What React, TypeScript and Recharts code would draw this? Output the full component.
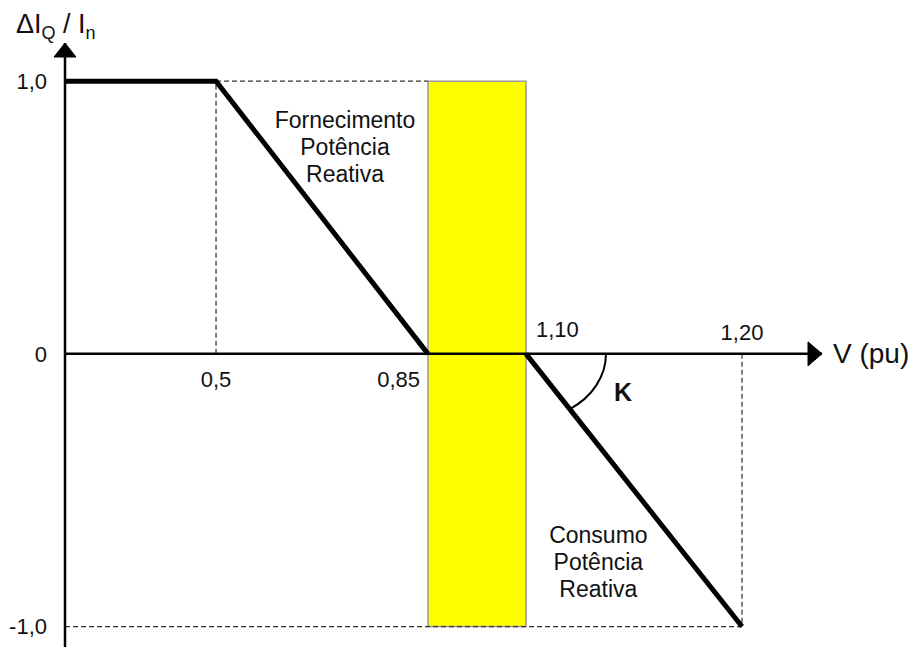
import { ComposedChart, Line, XAxis, YAxis, ReferenceArea, ReferenceLine, ReferenceDot } from 'recharts'

// voltage ticks on the (non-linear, schematic) V axis
const vTicks = [0.5, 0.85, 1.1, 1.2]
const vTickLabels = ['0,5', '0,85', '1,10', '1,20']
const vMax = 1.3

// ΔIQ / In ticks
const qTicks = [-1, 0, 1]
const qTickLabels = ['-1,0', '0', '1,0']
const qAxis = [-1.075, 1.14]

// supply of reactive power (undervoltage side)
const supplyV = [0, 0.5, 0.85]
const supplyQ = [1, 1, 0]

// consumption of reactive power (overvoltage side)
const consumeV = [1.1, 1.2]
const consumeQ = [0, -1]

// dead band
const bandV = [0.85, 1.1]
const bandQ = [-1, 1]

const supplyText = ['Fornecimento', 'Potência', 'Reativa']
const consumeText = ['Consumo', 'Potência', 'Reativa']

const supplyData = supplyV.map((v, i) => ({ v, q: supplyQ[i] }))
const consumeData = consumeV.map((v, i) => ({ v, q: consumeQ[i] }))

const FONT = '"Liberation Sans", Arial, sans-serif'

// the V axis in the drawing is not to scale: piecewise linear between the ticks
const knots = [0, ...vTicks, vMax]
const stops = [0, 0.1995, 0.4795, 0.609, 0.8943, 1]

function makeWarpScale(dom0?: number[], rng0?: number[]): any {
  let dom = dom0 ? dom0.slice() : [0, vMax]
  let rng = rng0 ? rng0.slice() : [0, 1]
  const frac = (v: number) => {
    for (let i = 1; i < knots.length; i++) {
      if (v <= knots[i] || i === knots.length - 1) {
        const t = (v - knots[i - 1]) / (knots[i] - knots[i - 1])
        return stops[i - 1] + t * (stops[i] - stops[i - 1])
      }
    }
    return 0
  }
  const scale: any = (v: number) => rng[0] + frac(Number(v)) * (rng[1] - rng[0])
  scale.domain = (d?: number[]) => {
    if (d === undefined) return dom.slice()
    dom = d.slice()
    return scale
  }
  scale.range = (r?: number[]) => {
    if (r === undefined) return rng.slice()
    rng = r.slice()
    return scale
  }
  scale.copy = () => makeWarpScale(dom, rng)
  scale.ticks = () => knots.slice()
  return scale
}

const xScale = makeWarpScale()

const tickPlace = [
  { dx: 0, dy: 26, anchor: 'middle' },
  { dx: -8, dy: 26, anchor: 'end' },
  { dx: 10, dy: -24, anchor: 'start' },
  { dx: 0, dy: -21, anchor: 'middle' },
]

const makeTick = (i: number) => (props: any) => {
  const p = tickPlace[i]
  return (
    <text x={props.cx + p.dx} y={props.cy + p.dy} textAnchor={p.anchor} dominantBaseline='central' fontSize={22} fontFamily={FONT} fill='#111'>
      {vTickLabels[i]}
    </text>
  )
}

const makeBlock = (lines: string[]) => (props: any) => (
  <text textAnchor='middle' fontSize={23} fontFamily={FONT} fill='#111'>
    {lines.map((s, i) => (
      <tspan key={i} x={props.cx} y={props.cy + (i - 1) * 27} dominantBaseline='central'>
        {s}
      </tspan>
    ))}
  </text>
)

const RightArrow = (props: any) => (
  <g>
    <path d={`M ${props.cx} ${props.cy} L ${props.cx - 14} ${props.cy - 12} L ${props.cx - 14} ${props.cy + 12} Z`} fill='#000' stroke='#000' />
    <text x={props.cx + 11} y={props.cy} dominantBaseline='central' fontSize={28} fontFamily={FONT} fill='#111'>
      V (pu)
    </text>
  </g>
)

// arrow head at the top of the vertical axis
const UpArrow = (props: any) => (
  <path d={`M ${props.cx} ${props.cy} L ${props.cx - 11} ${props.cy + 14} L ${props.cx + 11} ${props.cy + 14} Z`} fill='#000' stroke='#000' strokeWidth={1} />
)

const AngleK = (props: any) => (
  <g>
    <path d={`M ${props.cx + 80} ${props.cy} A 80 66 0 0 1 ${props.cx + 43.5} ${props.cy + 55.4}`} fill='none' stroke='#000' strokeWidth={2} />
    <text x={props.cx + 97} y={props.cy + 38} textAnchor='middle' dominantBaseline='central' fontSize={25} fontWeight='bold' fontFamily={FONT} fill='#111'>
      K
    </text>
  </g>
)

const YTitle = (props: any) => {
  const vb = props.viewBox || { x: 0, y: 43 }
  return (
    <text x={vb.x + 16} y={vb.y - 10} fontSize={27} fontFamily={FONT} fill='#111'>
      ΔI
      <tspan fontSize={18} dy={6}>Q</tspan>
      <tspan dy={-6}> / I</tspan>
      <tspan fontSize={18} dy={6}>n</tspan>
    </text>
  )
}

const dash = { stroke: '#333', strokeWidth: 1.2, strokeDasharray: '5 3' }

export default function App() {
  return (
    <div style={{ position: 'absolute', left: 0, top: 0, background: '#fff' }}>
      <ComposedChart width={912} height={647} margin={{ top: 43, right: 90, bottom: 0, left: 0 }}>
        <XAxis type='number' dataKey='v' domain={[0, vMax]} scale={xScale} hide />
        <YAxis
          type='number'
          dataKey='q'
          domain={qAxis}
          ticks={qTicks}
          tickFormatter={(q: number) => qTickLabels[qTicks.indexOf(q)]}
          width={65}
          axisLine={false}
          tickLine={false}
          tickSize={6}
          tickMargin={12}
          tick={{ fontSize: 22, fill: '#111', fontFamily: FONT }}
          label={<YTitle />}
        />
        <ReferenceArea x1={bandV[0]} x2={bandV[1]} y1={bandQ[0]} y2={bandQ[1]} fill='#ffff00' fillOpacity={1} stroke='#999' strokeWidth={1.5} ifOverflow='visible' />
        <ReferenceLine segment={[{ x: vTicks[0], y: 0 }, { x: vTicks[0], y: supplyQ[1] }]} {...dash} ifOverflow='visible' />
        <ReferenceLine segment={[{ x: vTicks[0], y: supplyQ[1] }, { x: bandV[0], y: supplyQ[1] }]} {...dash} ifOverflow='visible' />
        <ReferenceLine segment={[{ x: vTicks[3], y: 0 }, { x: vTicks[3], y: consumeQ[1] }]} {...dash} ifOverflow='visible' />
        <ReferenceLine segment={[{ x: 0, y: consumeQ[1] }, { x: vTicks[3], y: consumeQ[1] }]} {...dash} ifOverflow='visible' />
        <ReferenceLine segment={[{ x: 0, y: 0 }, { x: vMax, y: 0 }]} stroke='#000' strokeWidth={2.5} ifOverflow='visible' />
        <ReferenceLine segment={[{ x: 0, y: qAxis[0] }, { x: 0, y: qAxis[1] }]} stroke='#000' strokeWidth={2.5} ifOverflow='visible' />
        <Line data={supplyData} dataKey='q' type='linear' stroke='#000' strokeWidth={5} dot={false} isAnimationActive={false} />
        <Line data={consumeData} dataKey='q' type='linear' stroke='#000' strokeWidth={5} dot={false} isAnimationActive={false} />
        <ReferenceDot x={0} y={qAxis[1]} r={0} shape={UpArrow} ifOverflow='visible' />
        <ReferenceDot x={vMax} y={0} r={0} shape={RightArrow} ifOverflow='visible' />
        <ReferenceDot x={consumeV[0]} y={0} r={0} shape={AngleK} ifOverflow='visible' />
        {vTicks.map((v, i) => (
          <ReferenceDot key={v} x={v} y={0} r={0} shape={makeTick(i)} ifOverflow='visible' />
        ))}
        <ReferenceDot x={0.713} y={0.758} r={0} shape={makeBlock(supplyText)} ifOverflow='visible' />
        <ReferenceDot x={1.1335} y={-0.762} r={0} shape={makeBlock(consumeText)} ifOverflow='visible' />
      </ComposedChart>
    </div>
  )
}
